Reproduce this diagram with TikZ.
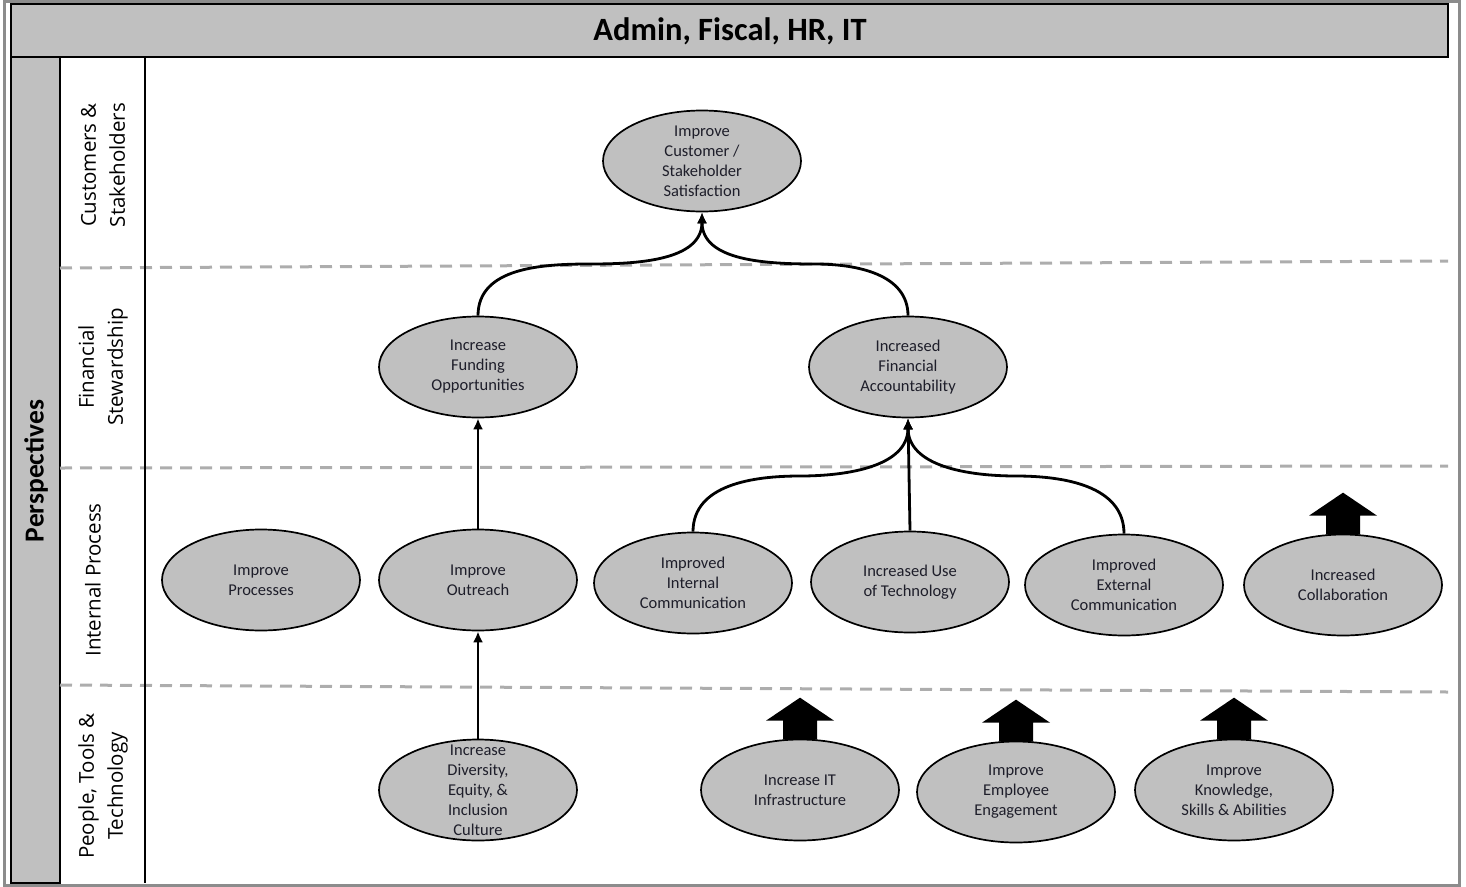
\documentclass[tikz,border=0pt]{standalone}
\usepackage{fontspec}
\setmainfont{Carlito}
\newfontfamily\rowfont{Open Sans}
\usetikzlibrary{shapes.geometric,arrows.meta}
\definecolor{panelgray}{HTML}{C0C0C0}
\definecolor{framegray}{HTML}{8C8C8C}
\definecolor{dashgray}{HTML}{ADADAD}
\definecolor{inktext}{HTML}{1E1E2A}

\begin{document}
\begin{tikzpicture}[x=1pt,y=-1pt,
  goal/.style={ellipse, draw=black, line width=1.7pt, fill=panelgray,
    minimum width=198pt, minimum height=101pt, inner sep=0pt,
    label={[goaltext]center:{#1}}},
  goaltext/.style={align=center, text=inktext, inner sep=0pt,
    font=\fontsize{16.5}{20}\selectfont},
  link/.style={line width=2.8pt, -{Latex[length=11pt,width=10pt]}},
  rowline/.style={draw=dashgray, line width=3pt, dash pattern=on 12pt off 8pt},
  rowlabel/.style={rotate=90, align=center, inner sep=0pt,
    font=\rowfont\fontsize{20.5}{29}\selectfont},
  pics/blockarrow/.style={code={
    \fill[black] (-17,1) -- (-17,-18) -- (-34,-18) -- (0,-41)
      -- (34,-18) -- (17,-18) -- (17,1) -- cycle;}}
]
\useasboundingbox (0,0) rectangle (1466,886);

% outer frame
\draw[framegray, line width=3pt] (4,1) rectangle (1459,885);

% title bar and perspectives column
\draw[fill=panelgray, line width=2.6pt] (11,4) rectangle (1448,57);
\node[font=\bfseries\fontsize{32.5}{38}\selectfont] (head) at (730,31) {Admin, Fiscal, HR, IT};
\draw[fill=panelgray, line width=2.6pt] (11,57) rectangle (60,883);
\node[rotate=90, font=\bfseries\fontsize{27.5}{32}\selectfont] (persp) at (36,471) {Perspectives};

% row separators
\draw[rowline] (60,268) -- (1448,261);
\draw[rowline] (60,468) -- (1448,466);
\draw[rowline] (60,685) -- (1448,692);
\draw[line width=2pt] (145,57) -- (145,883);

% row labels
\node[rowlabel] (lcust) at (103,165) {Customers \&\\Stakeholders};
\node[rowlabel] (lfin) at (103,367) {Financial\\Stewardship};
\node[rowlabel] (lint) at (93,580) {Internal Process};
\node[rowlabel] (lppl) at (103,786) {People, Tools \&\\Technology};

% objectives
\node[goal={Improve\\Customer /\\Stakeholder\\Satisfaction}] (cust) at (702,161) {};
\node[goal={Increase\\Funding\\Opportunities}] (fund) at (478,367) {};
\node[goal={Increased\\Financial\\Accountability}] (acct) at (908,367) {};
\node[goal={Improve\\Processes}] (proc) at (261,580) {};
\node[goal={Improve\\Outreach}] (outr) at (478,580) {};
\node[goal={Improved\\Internal\\Communication}] (intc) at (693,583) {};
\node[goal={Increased Use\\of Technology}] (tech) at (910,582) {};
\node[goal={Improved\\External\\Communication}] (extc) at (1124,585) {};
\node[goal={Increased\\Collaboration}] (coll) at (1343,585) {};
\node[goal={Increase\\Diversity,\\Equity, \&\\Inclusion\\Culture}] (dei) at (478,790) {};
\node[goal={Increase IT\\Infrastructure}] (itin) at (800,790) {};
\node[goal={Improve\\Employee\\Engagement}] (empl) at (1016,792) {};
\node[goal={Improve\\Knowledge,\\Skills \& Abilities}] (know) at (1234,790) {};

% cause and effect links
\coordinate (jl) at (590,264);
\coordinate (jr) at (815,264);
\coordinate (kl) at (800,476);
\coordinate (kr) at (1016,476);
\draw[link] (outr.north) -- (fund.south);
\draw[link] (dei.north) -- (outr.south);
\draw[link] (tech.north) -- (acct.south);
\draw[link] (fund.north) to[out=90,in=180] (jl) to[out=0,in=-90] (cust.south);
\draw[link] (acct.north) to[out=90,in=0] (jr) to[out=180,in=-90] (cust.south);
\draw[link] (intc.north) to[out=90,in=180] (kl) to[out=0,in=-90] (acct.south);
\draw[link] (extc.north) to[out=90,in=0] (kr) to[out=180,in=-90] (acct.south);

% improvement markers
\pic at (coll.north) {blockarrow};
\pic at (itin.north) {blockarrow};
\pic at (empl.north) {blockarrow};
\pic at (know.north) {blockarrow};
\end{tikzpicture}
\end{document}
